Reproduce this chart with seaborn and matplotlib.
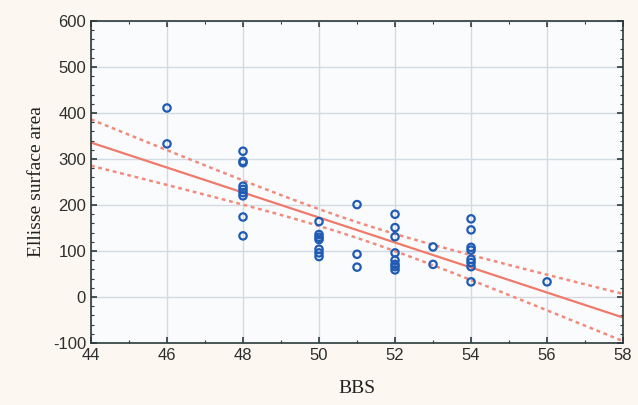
import numpy as np
import pandas as pd
import seaborn as sns
import matplotlib.pyplot as plt
from matplotlib.ticker import MultipleLocator

bbs_46 = [46, 46]
area_46 = [411, 333]
bbs_48 = [48] * 9
area_48 = [317, 295, 292, 241, 234, 227, 220, 174, 133]
bbs_50 = [50] * 7
area_50 = [164, 136, 130, 125, 104, 96, 88]
bbs_51 = [51] * 3
area_51 = [201, 93, 65]
bbs_52 = [52] * 8
area_52 = [180, 151, 131, 96, 80, 71, 66, 59]
bbs_53 = [53] * 2
area_53 = [109, 71]
bbs_54 = [54] * 8
area_54 = [170, 146, 108, 102, 82, 75, 66, 33]
bbs_56 = [56]
area_56 = [33]

x_ticks = [44, 46, 48, 50, 52, 54, 56, 58]
y_ticks = [-100, 0, 100, 200, 300, 400, 500, 600]

bbs = bbs_46 + bbs_48 + bbs_50 + bbs_51 + bbs_52 + bbs_53 + bbs_54 + bbs_56
area = area_46 + area_48 + area_50 + area_51 + area_52 + area_53 + area_54 + area_56
df = pd.DataFrame({"BBS": bbs, "Ellisse surface area": area})

sns.set_theme(style="white")
plt.rcParams['font.family'] = ['Liberation Sans', 'DejaVu Sans']
plt.rcParams['axes.unicode_minus'] = False

fig = plt.figure(figsize=(6.38, 4.05), dpi=100, facecolor="#fcf8f1")
ax = fig.add_axes([0.1426, 0.153, 0.834, 0.795])
ax.set_facecolor("#fafbfd")

line_color = "#f07a6a"
pt_color = "#1f5bb5"

# regression fit and 95% CI
x = df["BBS"].to_numpy(float)
y = df["Ellisse surface area"].to_numpy(float)
n = len(x)
b, a = np.polyfit(x, y, 1)
xs = np.linspace(44, 58, 200)
yhat = a + b * xs
resid = y - (a + b * x)
s = np.sqrt(np.sum(resid**2) / (n - 2))
t = 1.9
se = s * np.sqrt(1 / n + (xs - x.mean())**2 / np.sum((x - x.mean())**2))

sns.lineplot(x=xs, y=yhat, ax=ax, color=line_color, lw=1.6, zorder=2)
sns.lineplot(x=xs, y=yhat + t * se, ax=ax, color="#f28a7c", lw=1.8, linestyle=(0, (1.5, 1.5)), zorder=2)
sns.lineplot(x=xs, y=yhat - t * se, ax=ax, color="#f28a7c", lw=1.8, linestyle=(0, (1.5, 1.5)), zorder=2)

sns.scatterplot(data=df, x="BBS", y="Ellisse surface area", ax=ax, marker="o",
                facecolors="none", edgecolor=pt_color, linewidth=1.6, s=28, zorder=3)

ax.set_xlim(44, 58)
ax.set_ylim(-100, 600)
ax.set_xticks(x_ticks)
ax.set_yticks(y_ticks)
ax.xaxis.set_minor_locator(MultipleLocator(1))
ax.yaxis.set_minor_locator(MultipleLocator(20))
ax.grid(True, which="major", color="#d3dbe2", lw=1.0, zorder=0)
ax.set_axisbelow(True)
for sp in ax.spines.values():
    sp.set_color("#2b3a3a")
    sp.set_linewidth(1.2)
ax.tick_params(which="both", direction="in", color="#2b3a3a", labelsize=12, labelcolor="#2e2e2e",
               bottom=True, left=True, top=True, right=True)
ax.tick_params(which="major", length=4, width=1.2)
ax.tick_params(which="minor", length=2.5, width=0.8)
ax.set_xlabel("BBS", family=["Liberation Serif"], fontsize=14, color="#222222", labelpad=12)
ax.set_ylabel("Ellisse surface area", family=["Liberation Serif"], fontsize=14, color="#222222", labelpad=6)

fig.savefig("out.png", dpi=100, facecolor=fig.get_facecolor())
